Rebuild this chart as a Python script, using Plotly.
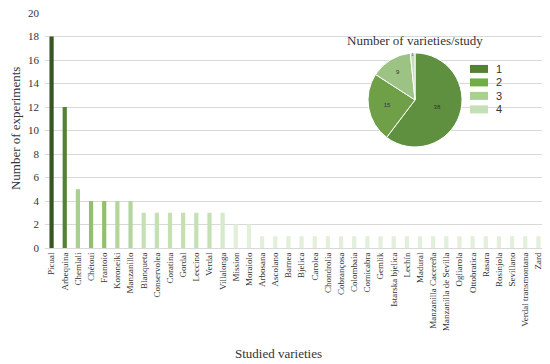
import plotly.graph_objects as go

varieties = ["Picual", "Arbequina", "Chemlali", "Chétoui", "Frantoio", "Koroneiki", "Manzanillo",
             "Blanqueta", "Conservolea", "Coratina", "Gordal", "Leccino", "Verdal", "Villalonga",
             "Mission", "Moraiolo", "Arbosana", "Ascolano", "Barnea", "Bjelica", "Carolea",
             "Chondrolia", "Cobrançosa", "Colombaia", "Cornicabra", "Gemlik", "Istarska bjelica",
             "Lechín", "Madural", "Manzanilla Cacereña", "Manzanilla de Sevilla", "Ogliarola",
             "Ottobratica", "Rasara", "Rosinjola", "Sevillano", "Verdal transmontana", "Zard"]
experiments = [18, 12, 5, 4, 4, 4, 4, 3, 3, 3, 3, 3, 3, 3, 2, 2] + [1] * 22
bar_colors = ["#375623", "#548235", "#a9d08e", "#93c06f", "#93c06f", "#b4d69c", "#b4d69c",
              "#c5e0b4", "#c5e0b4", "#c5e0b4", "#c5e0b4", "#c5e0b4", "#c5e0b4", "#d6e9c9",
              "#e2efd9", "#e2efd9"] + ["#e2efda"] * 22

pie_labels = ["1", "2", "3", "4"]
pie_values = [38, 15, 9, 1]
pie_colors = ["#5f9040", "#6fa048", "#9cc383", "#c8dcb8"]
legend_colors = ["#538135", "#70ad47", "#a9d18e", "#c5e0b4"]

serif = "Liberation Serif"
txt = "#333333"

fig = go.Figure()
fig.add_trace(go.Bar(x=varieties, y=experiments, marker=dict(color=bar_colors, line=dict(width=0)),
                     showlegend=False))
fig.add_trace(go.Pie(labels=pie_labels, values=pie_values, sort=False, direction="clockwise",
                     rotation=0, marker=dict(colors=pie_colors, line=dict(color="white", width=1)),
                     textinfo="value", textposition="inside", insidetextorientation="horizontal",
                     textfont=dict(size=6, color=txt, family="Liberation Sans"),
                     domain=dict(x=[0.646, 0.834], y=[0.43, 0.83]), showlegend=False,
                     hoverinfo="label+value"))

# white panel behind the inset pie
fig.add_shape(type="rect", xref="paper", yref="paper", x0=0.56, x1=0.92, y0=0.35, y1=0.945,
              fillcolor="white", line=dict(width=0), layer="between")

# inset pie legend
for i, (lab, col) in enumerate(zip(pie_labels, legend_colors)):
    yc = 0.762 - i * 0.0574
    fig.add_shape(type="rect", xref="paper", yref="paper", x0=0.85, x1=0.886,
                  y0=yc - 0.017, y1=yc + 0.017, fillcolor=col, line=dict(width=0), layer="above")
    fig.add_annotation(text=lab, xref="paper", yref="paper", x=0.898, y=yc, xanchor="left",
                       yanchor="middle", showarrow=False,
                       font=dict(family="Liberation Sans", size=11, color=txt))

fig.add_annotation(text="Number of varieties/study", xref="paper", yref="paper", x=0.74, y=0.881,
                   xanchor="center", yanchor="middle",
                   showarrow=False, font=dict(family=serif, size=13, color=txt))
fig.add_annotation(text="Studied varieties", xref="paper", yref="paper", x=0.466, y=-0.447,
                   xanchor="center", yanchor="middle",
                   showarrow=False, font=dict(family=serif, size=13, color=txt))
fig.add_annotation(text="Number of experiments", xref="paper", yref="paper", x=-0.06, y=0.506,
                   textangle=-90, showarrow=False, xanchor="center", yanchor="middle",
                   font=dict(family=serif, size=13, color=txt))

fig.update_layout(
    width=542, height=356,
    margin=dict(l=37, r=5, t=5, b=116),
    paper_bgcolor="white", plot_bgcolor="white",
    bargap=0.68,
    font=dict(family=serif, color=txt),
    showlegend=False,
    xaxis=dict(tickmode="array", tickvals=varieties, ticktext=varieties,
               tickangle=-90, tickfont=dict(size=9, family=serif, color=txt),
               showgrid=False, showline=True, linecolor="#d9d9d9", ticks="", automargin=False),
    yaxis=dict(range=[0, 20], dtick=2, showgrid=True, gridcolor="#d9d9d9", zeroline=False,
               automargin=False, ticklabelstandoff=5, ticklabeloverflow="allow",
               tickfont=dict(size=11, family=serif, color=txt), ticks=""),
)

fig.write_html("out.html")
